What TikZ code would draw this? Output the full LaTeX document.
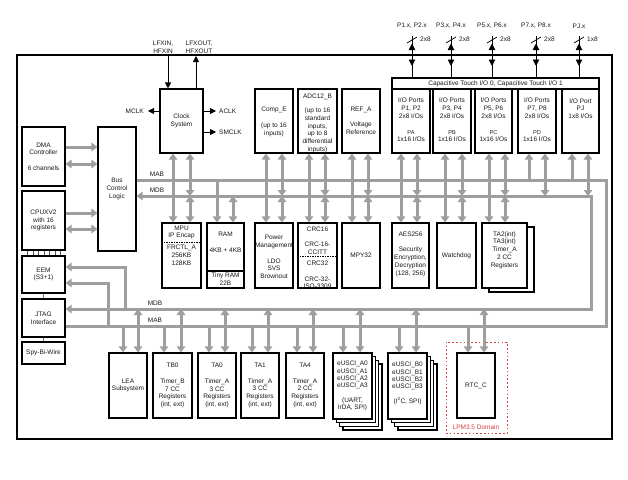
\documentclass[tikz,border=0pt]{standalone}
\usepackage{fontspec}
\setmainfont{Liberation Sans}
\usetikzlibrary{arrows.meta}
\definecolor{busgray}{RGB}{158,158,158}
\definecolor{lpmred}{RGB}{214,64,64}
\definecolor{txtc}{RGB}{25,25,25}
\newcommand\bx[6][]{\node[box,#1,minimum width={#5-#3},minimum height={#6-#4}] (#2) at ({(#3+#5)/2},{(#4+#6)/2}) {};}
\newcommand\cA[3]{\draw[ga] (#1,0 |- #2) -- (#1,0 |- #3);}
\newcommand\cB[3]{\draw[gab] (#1,0 |- #2) -- (#1,0 |- #3);}
\begin{document}
\begin{tikzpicture}[x=1pt,y=-1pt,
  box/.style={draw=black,line width=1.1pt,fill=white,inner sep=0pt,rectangle},
  txt/.style={font=\fontsize{6.5}{7.8}\selectfont,align=center,inner sep=0pt,text=txtc},
  ga/.style={draw=busgray,line width=3pt,-{Triangle[length=6pt,width=8.5pt]}},
  gab/.style={draw=busgray,line width=3pt,{Triangle[length=6pt,width=8.5pt]}-{Triangle[length=6pt,width=8.5pt]}},
  bus/.style={draw=busgray,line width=3pt},
  blk/.style={draw=black,line width=0.9pt,-{Triangle[length=6pt,width=6pt]}},
  blkd/.style={draw=black,line width=0.9pt,{Triangle[length=6.5pt,width=6.5pt]}-{Triangle[length=6.5pt,width=6.5pt]}},
  thin/.style={draw=black,line width=0.9pt}]
\useasboundingbox (0,0) rectangle (628,479);
% frame
\bx[line width=1.3pt]{frame}{17}{55}{612}{439}
% bus coordinates
\coordinate (mab) at (0,180);
\coordinate (mdb) at (0,196);
\coordinate (lmdb) at (0,309);
\coordinate (lmab) at (0,326);
% left boxes (for anchors)
\bx{dma}{22}{127}{65}{186}
\bx{cpu}{22}{191}{65}{250}
\bx{eem}{22}{256}{65}{293}
\bx{jtag}{22}{299}{65}{337}
\bx{spy}{22}{342}{65}{364}
\bx{bcl}{98}{127}{136}{251}
% buses
\draw[bus,line join=miter] (bcl.east |- mab) -- (606,180) -- (606,326) -- (jtag.east |- lmab);
\draw[gab,line join=miter] (bcl.east |- mdb) -- (591,196) -- (591,309) -- (jtag.east |- lmdb);
\draw[ga,line join=miter] (125,309) -- (125,267) -- (eem.east |- 0,267);
\draw[ga,line join=miter] (108,326) -- (108,283) -- (eem.east |- 0,283);
% DMA / CPU to bus control
\draw[ga] (dma.east |- 0,147) -- (bcl.west |- 0,147);
\draw[gab] (dma.east |- 0,164) -- (bcl.west |- 0,164);
\draw[ga] (cpu.east |- 0,213) -- (bcl.west |- 0,213);
\draw[gab] (cpu.east |- 0,229) -- (bcl.west |- 0,229);
% LPM domain
\bx[draw=lpmred,fill=none,line width=1pt,dash pattern=on 1.6pt off 2.2pt]{lpm}{446}{342}{507}{433}
\node[txt,text=lpmred] (lpmT) at (476,427) {LPM3.5 Domain};
% top row boxes
\bx{clk}{160}{89}{203}{153}
\bx{comp}{255}{89}{293}{153}
\bx{adc}{298}{89}{337}{153}
\bx{ref}{342}{89}{380}{153}
\bx{p12}{392}{89}{430}{153}
\bx{p34}{433}{89}{471}{153}
\bx{p56}{475}{89}{512}{153}
\bx{p78}{518}{89}{556}{153}
\bx{pj}{562}{89}{599}{153}
\bx{ctb}{392}{78}{599}{89}
% middle row
\bx{mpu}{162}{223}{201}{288}
\bx{ram}{207}{223}{244}{288}
\bx{pwr}{255}{223}{293}{288}
\bx{crc}{298}{223}{337}{288}
\bx{mpy}{342}{223}{380}{288}
\bx{aes}{392}{223}{429}{288}
\bx{wdt}{437}{223}{476}{288}
\bx{tatb}{489}{227}{534}{292}
\bx{tat}{482}{223}{527}{288}
% bottom row
\bx{lea}{109}{353}{147}{418}
\bx{tb0}{153}{353}{192}{418}
\bx{ta0}{198}{353}{236}{418}
\bx{ta1}{241}{353}{279}{418}
\bx{ta4}{286}{353}{324}{418}
\bx{euA3}{343}{364}{382}{430}
\bx{euA2}{339.6}{360.4}{378.6}{426.4}
\bx{euA1}{336.3}{356.7}{375.3}{422.7}
\bx{euA}{333}{353}{372}{419}
\bx{euB3}{398}{364}{437}{430}
\bx{euB2}{394.6}{360.4}{433.6}{426.4}
\bx{euB1}{391.3}{356.7}{430.3}{422.7}
\bx{euB}{388}{353}{427}{419}
\bx{rtc}{457}{353}{495}{418}
% bus connections: top row
\cA{173}{mab}{clk.south} \cB{190}{mdb}{clk.south}
\cA{266}{mab}{comp.south} \cB{282}{mdb}{comp.south}
\cA{309}{mab}{adc.south} \cB{325}{mdb}{adc.south}
\cA{352}{mab}{ref.south} \cB{368}{mdb}{ref.south}
\cA{401}{mab}{p12.south} \cB{417}{mdb}{p12.south}
\cA{445}{mab}{p34.south} \cB{462}{mdb}{p34.south}
\cA{489}{mab}{p56.south} \cB{505}{mdb}{p56.south}
\cA{529}{mab}{p78.south} \cB{545}{mdb}{p78.south}
\cA{572}{mab}{pj.south} \cB{588}{mdb}{pj.south}
% middle row
\cA{173}{mab}{mpu.north} \cB{190}{mdb}{mpu.north}
\cA{217}{mab}{ram.north} \cB{233}{mdb}{ram.north}
\cA{266}{mab}{pwr.north} \cB{282}{mdb}{pwr.north}
\cA{309}{mab}{crc.north} \cB{325}{mdb}{crc.north}
\cA{352}{mab}{mpy.north} \cB{368}{mdb}{mpy.north}
\cA{401}{mab}{aes.north} \cB{417}{mdb}{aes.north}
\cA{445}{mab}{wdt.north} \cB{462}{mdb}{wdt.north}
\cA{489}{mab}{tat.north} \cB{505}{mdb}{tat.north}
% bottom row
\cA{123}{lmab}{lea.north} \cB{138}{lmdb}{lea.north}
\cA{164}{lmab}{tb0.north} \cB{181}{lmdb}{tb0.north}
\cA{209}{lmab}{ta0.north} \cB{225}{lmdb}{ta0.north}
\cA{252}{lmab}{ta1.north} \cB{268}{lmdb}{ta1.north}
\cA{297}{lmab}{ta4.north} \cB{313}{lmdb}{ta4.north}
\cA{343}{lmab}{euA.north} \cB{360}{lmdb}{euA.north}
\cA{399}{lmab}{euB.north} \cB{416}{lmdb}{euB.north}
\cA{468}{lmab}{rtc.north} \cB{484}{lmdb}{rtc.north}
% bus labels
\node[txt] (mabT) at (157,174) {MAB};
\node[txt] (mdbT) at (157,190.5) {MDB};
\node[txt] (lmdbT) at (155,303.5) {MDB};
\node[txt] (lmabT) at (155,320) {MAB};
% CPU-EEM ticks and debug links
\foreach \t in {0,...,6} \draw[black!65,line width=0.6pt] ({27.5+5.5*\t},0 |- cpu.south) -- ({27.5+5.5*\t},0 |- eem.north);
\draw[black!55,line width=0.7pt] (43,0 |- eem.south) -- (43,0 |- jtag.north);
\draw[black!55,line width=0.7pt] (43,0 |- jtag.south) -- (43,0 |- spy.north);
% clock signals
\coordinate (lfi) at (168,56);
\coordinate (lfo) at (196,56);
\draw[blk] (lfi) -- (lfi |- clk.north);
\draw[blk] (lfo |- clk.north) -- (lfo);
\node[txt] (lfiT) at (163,47.5) {LFXIN,\\HFXIN};
\node[txt] (lfoT) at (199,47.5) {LFXOUT,\\HFXOUT};
\coordinate (mclk) at (148,111);
\coordinate (aclk) at (216,111);
\coordinate (smclk) at (216,132);
\draw[blk] (clk.west |- mclk) -- (mclk);
\draw[blk] (clk.east |- aclk) -- (aclk);
\draw[blk] (clk.east |- smclk) -- (smclk);
\node[txt,anchor=east] (mclkT) at (144,111) {MCLK};
\node[txt,anchor=west] (aclkT) at (219,111) {ACLK};
\node[txt,anchor=west] (smclkT) at (219,132) {SMCLK};
% port pins
\foreach \x/\lab/\w [count=\i] in {412/{P1.x, P2.x}/2x8,451/{P3.x, P4.x}/2x8,492/{P5.x, P6.x}/2x8,536/{P7.x, P8.x}/2x8,579/{PJ.x}/1x8}{
  \coordinate (pin\i) at (\x,36);
  \draw[thin] (pin\i) -- (\x,0 |- ctb.north);
  \draw[blkd] (\x,43.5) -- (\x,66);
  \draw[black,line width=0.7pt] ({\x-5},43) -- ({\x+5},37);
  \node[txt] (plab\i) at (\x,26) {\lab};
  \node[txt,anchor=west] (pw\i) at ({\x+8},39) {\w};
}
% texts
\node[txt] (dmaT) at (dma) {DMA\\Controller\\[7.8pt]6 channels};
\node[txt] (cpuT) at (cpu) {CPUXV2\\with 16\\registers};
\node[txt] (eemT) at (eem) {EEM\\(S3+1)};
\node[txt] (jtagT) at (jtag) {JTAG\\Interface};
\node[txt] (spyT) at (spy) {Spy-Bi-Wire};
\node[txt] (bclT) at (bcl) {Bus\\Control\\Logic};
\node[txt] (clkT) at (181.5,121) {Clock\\System};
\node[txt] (compT) at (274,122) {Comp\_E\\[7.8pt](up to 16\\inputs)};
\node[txt] (adcT) at (317.5,123.5) {ADC12\_B\\[6pt](up to 16\\standard\\inputs,\\up to 8\\differential\\inputs)};
\node[txt] (refT) at (361,120.5) {REF\_A\\[7.8pt]Voltage\\Reference};
\node[txt] (ctbT) at (ctb) {Capacitive Touch I/O 0, Capacitive Touch I/O 1};
\node[txt] (p12T) at (411,120) {I/O Ports\\P1, P2\\2x8 I/Os\\[7.8pt]{\fontsize{5.6}{7.8}\selectfont PA}\\1x16 I/Os};
\node[txt] (p34T) at (452,120) {I/O Ports\\P3, P4\\2x8 I/Os\\[7.8pt]{\fontsize{5.6}{7.8}\selectfont PB}\\1x16 I/Os};
\node[txt] (p56T) at (493.5,120) {I/O Ports\\P5, P6\\2x8 I/Os\\[7.8pt]{\fontsize{5.6}{7.8}\selectfont PC}\\1x16 I/Os};
\node[txt] (p78T) at (537,120) {I/O Ports\\P7, P8\\2x8 I/Os\\[7.8pt]{\fontsize{5.6}{7.8}\selectfont PD}\\1x16 I/Os};
\node[txt] (pjT) at (580.5,108.5) {I/O Port\\PJ\\1x8 I/Os};
% middle row texts
\draw[black,line width=0.7pt,dash pattern=on 1.5pt off 1pt] (mpu.west |- 0,242) -- (mpu.east |- 0,242);
\node[txt] (mpuT1) at (181.5,232.5) {MPU\\IP Encap};
\node[txt] (mpuT2) at (181.5,255.5) {FRCTL\_A\\256KB\\128KB};
\draw[black,line width=1.1pt] (ram.west |- 0,271) -- (ram.east |- 0,271);
\node[txt] (ramT1) at (225.5,242.5) {RAM\\[8.5pt]4KB + 4KB};
\node[txt] (ramT2) at (225.5,279.5) {Tiny RAM\\22B};
\node[txt] (pwrT) at (274,257) {Power\\Management\\[7.8pt]LDO\\SVS\\Brownout};
\draw[black,line width=0.7pt,dash pattern=on 1.5pt off 1pt] (crc.west |- 0,256) -- (crc.east |- 0,256);
\node[txt] (crcT1) at (317.5,240.5) {CRC16\\[7.2pt]CRC-16-\\CCITT};
\node[txt] (crcT2) at (317.5,275) {CRC32\\[7.8pt]CRC-32-\\ISO-3309};
\node[txt] (mpyT) at (mpy) {MPY32};
\node[txt] (aesT) at (410.5,254) {AES256\\[7.8pt]Security\\Encryption,\\Decryption\\(128, 256)};
\node[txt] (wdtT) at (wdt) {Watchdog};
\node[txt] (tatT) at (504.5,250) {TA2(int)\\TA3(int)\\Timer\_A\\2 CC\\Registers};
% bottom texts
\node[txt] (leaT) at (lea) {LEA\\Subsystem};
\node[txt] (tb0T) at (172.5,385.5) {TB0\\[7.8pt]Timer\_B\\7 CC\\Registers\\(int, ext)};
\node[txt] (ta0T) at (217,385.5) {TA0\\[7.8pt]Timer\_A\\3 CC\\Registers\\(int, ext)};
\node[txt] (ta1T) at (260,385.5) {TA1\\[7.8pt]Timer\_A\\3 CC\\Registers\\(int, ext)};
\node[txt] (ta4T) at (305,385.5) {TA4\\[7.8pt]Timer\_A\\2 CC\\Registers\\(int, ext)};
\node[txt,font=\fontsize{6.5}{7.3}\selectfont] (euAT) at (352.5,386) {eUSCI\_A0\\eUSCI\_A1\\eUSCI\_A2\\eUSCI\_A3\\[7.3pt](UART,\\IrDA, SPI)};
\node[txt,font=\fontsize{6.5}{7.3}\selectfont] (euBT) at (407.5,383.5) {eUSCI\_B0\\eUSCI\_B1\\eUSCI\_B2\\eUSCI\_B3\\[7.3pt](I\textsuperscript{2}C, SPI)};
\node[txt] (rtcT) at (rtc) {RTC\_C};
\end{tikzpicture}
\end{document}
